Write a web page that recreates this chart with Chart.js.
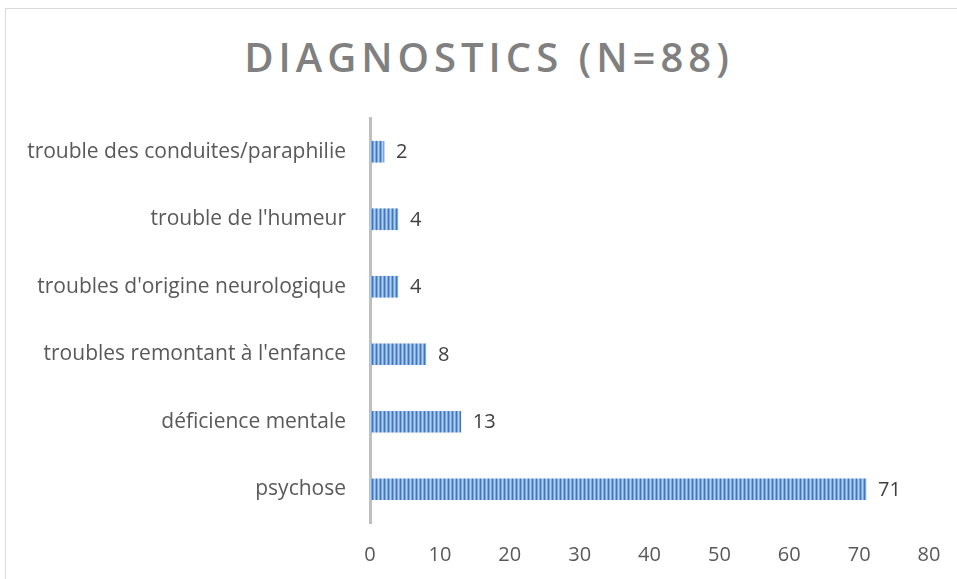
<!DOCTYPE html>
<html>
<head>
<meta charset="utf-8">
<script src="https://cdn.jsdelivr.net/npm/chart.js@4"></script>
<style>
  html, body { margin: 0; padding: 0; background: #fff; }
  #wrap { position: relative; width: 957px; height: 579px; overflow: hidden; }
  #frame { position: absolute; left: 5px; top: 8px; width: 960px; height: 580px; border: 1px solid #d9d9d9; box-sizing: border-box; }
  #title { position: absolute; left: 0; width: 978px; top: 29px; text-align: center; font: 600 40px "Open Sans"; letter-spacing: 5px; color: #808080; }
  canvas { position: absolute; left: 0; top: 0; }
</style>
</head>
<body>
<div id="wrap">
  <div id="frame"></div>
  <div id="title">DIAGNOSTICS (N=88)</div>
  <canvas id="diag" width="957" height="579"></canvas>
</div>
<script>
const categories = ['trouble des conduites/paraphilie', "trouble de l'humeur", "troubles d'origine neurologique", "troubles remontant à l'enfance", 'déficience mentale', 'psychose']
const counts = [2, 4, 4, 8, 13, 71]
const xTicks = [0, 10, 20, 30, 40, 50, 60, 70, 80]

// striped fill like the excel bars
function stripes() {
  const c = document.createElement('canvas')
  c.width = 4
  c.height = 1
  const g = c.getContext('2d')
  const cols = ['#4575b8', '#7aa8e2', '#b3d0f3', '#7aa8e2']
  cols.forEach((col, i) => { g.fillStyle = col; g.fillRect(i, 0, 1, 1) })
  return g.createPattern(c, 'repeat')
}

const valueLabels = {
  id: 'valueLabels',
  afterDatasetsDraw(chart) {
    const ctx = chart.ctx
    const meta = chart.getDatasetMeta(0)
    ctx.save()
    ctx.font = '20px "Open Sans"'
    ctx.fillStyle = '#404040'
    ctx.textBaseline = 'middle'
    ctx.textAlign = 'left'
    meta.data.forEach((bar, i) => {
      ctx.fillText(counts[i], bar.x + 12, bar.y + 1)
    })
    ctx.restore()
  }
}

new Chart('diag', {
  type: 'bar',
  data: {
    labels: categories,
    datasets: [{
      data: counts,
      backgroundColor: stripes(),
      barThickness: 21
    }]
  },
  options: {
    indexAxis: 'y',
    responsive: false,
    animation: false,
    layout: { padding: { top: 118, right: 28, bottom: 0, left: 0 } },
    plugins: { legend: { display: false }, tooltip: { enabled: false } },
    scales: {
      x: {
        min: 0,
        max: 80,
        afterBuildTicks: (s) => { s.ticks = xTicks.map(v => ({ value: v })) },
        grid: { display: false },
        border: { display: false },
        ticks: { padding: 12, color: '#595959', font: { family: 'Open Sans', size: 20 } },
        afterFit: (s) => { s.height = 56 }
      },
      y: {
        grid: { display: false },
        border: { display: true, color: '#bfbfbf', width: 3 },
        ticks: { padding: 16, color: '#595959', font: { family: 'Open Sans', size: 21 } },
        afterFit: (s) => { s.width = 370 }
      }
    }
  },
  plugins: [valueLabels]
})
</script>
</body>
</html>
